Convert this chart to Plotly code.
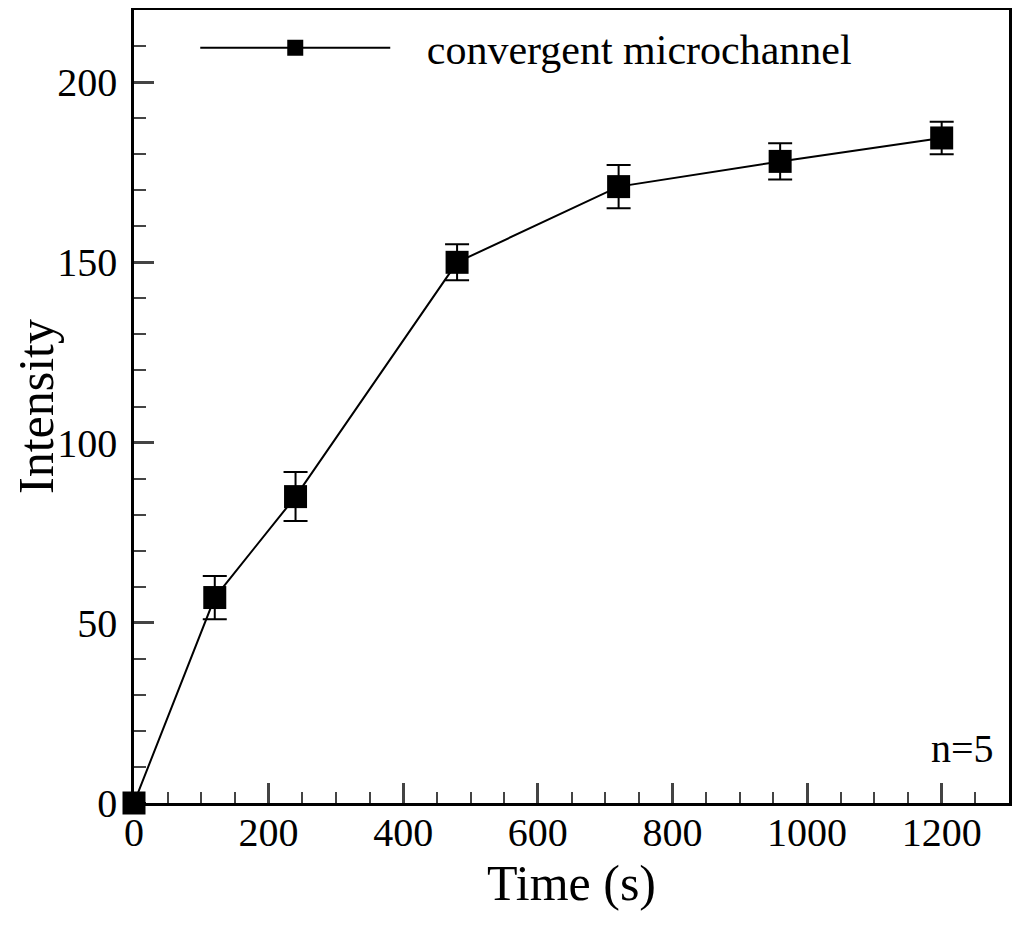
import plotly.graph_objects as go

# data
time_s = [0, 120, 240, 480, 720, 960, 1200]
intensity = [0, 57, 85, 150, 171, 178, 184.5]
intensity_err = [0, 6, 6.8, 5, 6, 5, 4.5]

FONT = "Times New Roman, Liberation Serif, serif"
NBSP = "\u00a0"

fig = go.Figure(data=go.Scatter(
    x=time_s, y=intensity,
    mode='lines+markers',
    name=NBSP * 3 + 'convergent microchannel',
    line=dict(color='black', width=2),
    marker=dict(symbol='square', size=23, color='black'),
    error_y=dict(type='data', array=intensity_err, visible=True,
                 color='black', thickness=2, width=12),
    cliponaxis=False,
))

# page body has an 8px margin, so the figure is a bit smaller and shifted
fig.update_layout(
    width=1016, height=917,
    plot_bgcolor='white', paper_bgcolor='white',
    margin=dict(l=126, r=15, t=2, b=122, autoexpand=False),
    font=dict(family=FONT, size=40, color='black'),
    showlegend=True,
    legend=dict(x=0.07, y=0.995, xanchor='left', yanchor='top',
                bgcolor='rgba(0,0,0,0)', itemwidth=190,
                font=dict(family=FONT, size=42)),
    xaxis=dict(
        title=dict(text='Time (s)', font=dict(size=50), standoff=0),
        range=[0, 1300], tick0=0, dtick=200,
        ticks='inside', ticklen=20, tickwidth=2.5, ticklabelstandoff=-8,
        minor=dict(ticks='inside', ticklen=11, tickwidth=1.5, dtick=50),
        showline=True, linecolor='black', linewidth=2.5, mirror=True,
        showgrid=False, zeroline=False, automargin=False,
    ),
    yaxis=dict(
        title=dict(text='Intensity', font=dict(size=50), standoff=8),
        range=[0, 220], tick0=0, dtick=50,
        ticks='inside', ticklen=20, tickwidth=2.5, ticklabelstandoff=6,
        minor=dict(ticks='inside', ticklen=12, tickwidth=1.5, dtick=10),
        showline=True, linecolor='black', linewidth=2.5, mirror=True,
        showgrid=False, zeroline=False, automargin=False,
    ),
)

fig.add_annotation(text='n=5', xref='paper', x=0.985, xanchor='right',
                   yref='y', y=15, yanchor='middle', showarrow=False,
                   font=dict(family=FONT, size=40))

fig.write_html("out.html")
